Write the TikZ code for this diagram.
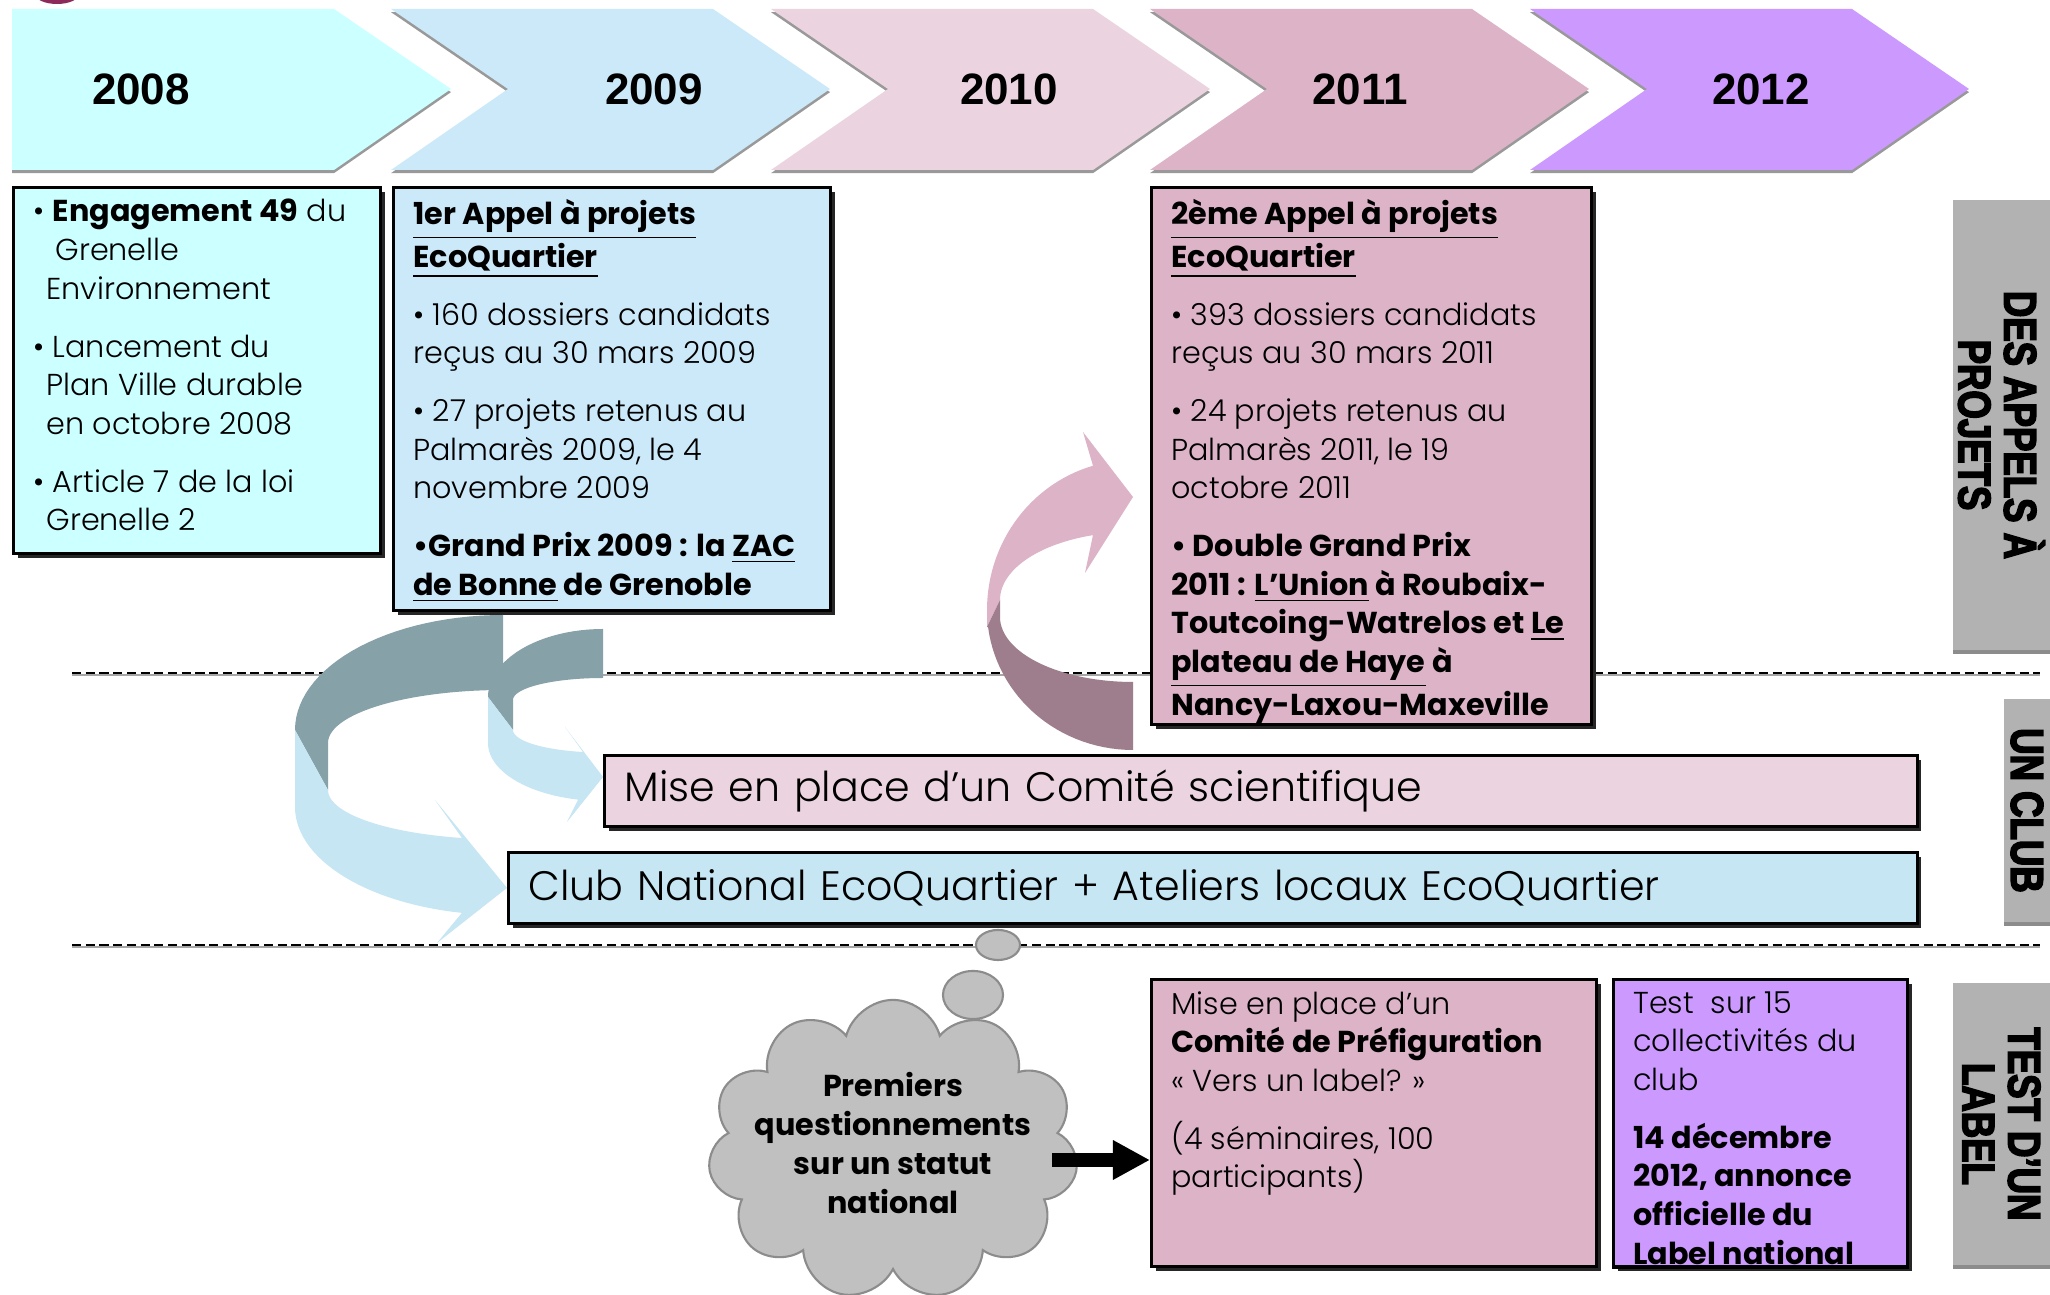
\documentclass[tikz,border=0pt]{standalone}
\usepackage{fontspec}
\setmainfont{Poppins}[UprightFont={* Light}, BoldFont={* Bold}]
\newfontfamily\yearfont{Liberation Sans}
\newfontfamily\sidefont{Liberation Sans Bold}[FakeStretch=0.8, FakeBold=3.5]
\usetikzlibrary{arrows.meta,shadows,shapes.symbols}
\definecolor{col2008}{HTML}{CCFFFF}
\definecolor{col2009}{HTML}{CCE9F9}
\definecolor{col2010}{HTML}{EBD4E0}
\definecolor{col2011}{HTML}{DDB3C8}
\definecolor{col2012}{HTML}{CC99FF}
\definecolor{colclub}{HTML}{C5E6F2}
\definecolor{ribblue}{HTML}{C5E6F2}
\definecolor{ribdark}{HTML}{87A1A8}
\definecolor{ribpink}{HTML}{DDB3C8}
\definecolor{ribmauve}{HTML}{9E7E8C}
\definecolor{cloudgray}{HTML}{C0C0C0}
\definecolor{sidegray}{HTML}{B2B2B2}
\definecolor{blob}{HTML}{8E2A5A}

\newcommand{\bodysize}{\fontsize{8.6}{11}\selectfont}
\newcommand{\itemgap}{\\[0.19cm]}
\newcommand{\boxtext}[3]{\parbox[t][#2][t]{#1}{\bodysize #3}}

\tikzset{
  chevron/.style={preaction={fill=black!40, transform canvas={yshift=-0.9pt}}},
  yearlabel/.style={font=\yearfont\bfseries\fontsize{12.5}{14}\selectfont},
  textbox/.style={anchor=north west, draw, line width=0.8pt,
    inner xsep=0.2cm, inner ysep=0.12cm,
    general shadow={fill=black!85, shadow xshift=1.2pt, shadow yshift=-1.2pt}},
  midbox/.style={textbox, text width=#1, minimum height=0.71cm, align=left,
    font=\fontsize{11.7}{13}\selectfont},
  sidebox/.style={fill=sidegray, inner sep=0pt,
    general shadow={fill=black!45, shadow yshift=-1pt},
    font=\sidefont\fontsize{13}{13}\selectfont},
  sepline/.style={line width=0.7pt, dash pattern=on 2.6pt off 1.3pt,
    preaction={draw=black!35, transform canvas={yshift=-0.6pt}}},
  fatarrow/.style={line width=4.2pt, -{Triangle[length=0.37cm, width=0.37cm]}},
  bubble/.style={fill=cloudgray, draw=black!45, line width=0.6pt}
}

\begin{document}
\begin{tikzpicture}[x=0.01cm, y=-0.01cm]
  \path[use as bounding box, fill=white] (0,0) rectangle (2050,1295);
  \fill[blob] (57,-6) ellipse [x radius=0.22cm, y radius=0.1cm];

  % chevrons
  \foreach \L/\yr/\lx in {12/2008/141, 391/2009/654, 771/2010/1009, 1150/2011/1360, 1530/2012/1761}{
    \ifnum\yr=2008
      \path[chevron, fill=col\yr] (\L,9) -- ({\L+322},9) -- ({\L+439},89) -- ({\L+322},170) -- (\L,170) -- cycle;
    \else
      \path[chevron, fill=col\yr] (\L,9) -- ({\L+322},9) -- ({\L+439},89) -- ({\L+322},170) -- (\L,170) -- ({\L+117},89) -- cycle;
    \fi
    \node[yearlabel] (y\yr) at (\lx,89) {\yr};
  }

  \draw[sepline] (72,673) -- (2040,673);
  \draw[sepline] (72,945) -- (2040,945);

  \node[textbox, fill=col2008] (b2008) at (12,186) {\boxtext{3.27cm}{3.42cm}{%
    \textbullet\ \textbf{Engagement 49} du\\
    \hspace*{0.22cm}Grenelle\\
    \hspace*{0.13cm}Environnement\itemgap
    \textbullet\ Lancement du\\
    \hspace*{0.13cm}Plan Ville durable\\
    \hspace*{0.13cm}en octobre 2008\itemgap
    \textbullet\ Article 7 de la loi\\
    \hspace*{0.13cm}Grenelle 2}};

  \node[textbox, fill=col2009] (b2009) at (392,186) {\boxtext{3.97cm}{3.99cm}{%
    \underline{\textbf{1er Appel à projets}}\\
    \underline{\textbf{EcoQuartier}}\itemgap
    \textbullet\ 160 dossiers candidats\\
    reçus au 30 mars 2009\itemgap
    \textbullet\ 27 projets retenus au\\
    Palmarès 2009, le 4\\
    novembre 2009\itemgap
    \textbf{\textbullet Grand Prix 2009 : la \underline{ZAC}}\\
    \textbf{\underline{de Bonne} de Grenoble}}};

  \node[textbox, fill=col2011] (b2011) at (1150,186) {\boxtext{4.00cm}{5.13cm}{%
    \underline{\textbf{2ème Appel à projets}}\\
    \underline{\textbf{EcoQuartier}}\itemgap
    \textbullet\ 393 dossiers candidats\\
    reçus au 30 mars 2011\itemgap
    \textbullet\ 24 projets retenus au\\
    Palmarès 2011, le 19\\
    octobre 2011\itemgap
    \textbf{\textbullet\ Double Grand Prix}\\
    \textbf{2011 : \underline{L’Union} à Roubaix-}\\
    \textbf{Toutcoing-Watrelos et \underline{Le}}\\
    \textbf{\underline{plateau de Haye} à}\\
    \textbf{Nancy-Laxou-Maxeville}}};

  \node[midbox=12.72cm, fill=col2010] (comite) at (603,754) {Mise en place d’un Comité scientifique};
  \node[midbox=13.68cm, fill=colclub] (club) at (507,851) {Club National EcoQuartier + Ateliers locaux EcoQuartier};

  \node[textbox, fill=col2011] (prefig) at (1150,978) {\boxtext{4.05cm}{2.63cm}{%
    Mise en place d’un\\
    \textbf{Comité de Préfiguration}\\
    « Vers un label? »\itemgap
    (4 séminaires, 100\\
    participants)}};

  \node[textbox, fill=col2012] (testlab) at (1612,978) {\boxtext{2.54cm}{2.63cm}{%
    Test\ \ sur 15\\
    collectivités du\\
    club\itemgap
    \textbf{14 décembre}\\
    \textbf{2012, annonce}\\
    \textbf{officielle du}\\
    \textbf{Label national}}};
  \draw[line width=0.8pt] (testlab.south west) -- (testlab.south east);

  % rubans
  \fill[ribdark] (503,615) -- plot[domain=270:180, samples=30] ({503+208*cos(\x)},{730+115*sin(\x)})
    -- (328,790) -- (328,743) -- plot[domain=180:270, samples=30] ({503+175*cos(\x)},{743+53*sin(\x)}) -- cycle;
  \fill[ribblue] (295,730) -- (295,807) -- plot[domain=180:101.4, samples=30] ({503+208*cos(\x)},{807+108*sin(\x)})
    -- (437,943) -- (club.west) -- (435,800) -- (462,838)
    -- plot[domain=103.5:180, samples=30] ({503+175*cos(\x)},{790+49.4*sin(\x)}) -- cycle;

  \fill[ribdark] (603,629) -- plot[domain=270:180, samples=25] ({603+115*cos(\x)},{697+68*sin(\x)})
    -- (513,730) -- (513,700) -- plot[domain=180:270, samples=25] ({603+90*cos(\x)},{700+22*sin(\x)}) -- cycle;
  \fill[ribblue] (488,697) -- (488,743) -- plot[domain=180:102.5, samples=25] ({603+115*cos(\x)},{743+58*sin(\x)})
    -- (567,822) -- (603,777) -- (565,727) -- (583,752)
    -- plot[domain=102.8:180, samples=25] ({603+90*cos(\x)},{730+22.6*sin(\x)}) -- cycle;

  \fill[ribpink] (987,627) -- (987,610) -- plot[domain=180:254.1, samples=30] ({1133+146*cos(\x)},{610+150*sin(\x)})
    -- (1083,432) -- (1133,497) -- (1085,573) -- (1093,535)
    -- plot[domain=252.5:180, samples=30] ({1133+133*cos(\x)},{600+68*sin(\x)}) -- cycle;
  \fill[ribmauve] (1000,600) -- (987,627) -- plot[domain=173:90, samples=30] ({1133+146*cos(\x)},{610+140*sin(\x)})
    -- (1133,682) -- plot[domain=90:180, samples=30] ({1133+133*cos(\x)},{617+65*sin(\x)}) -- cycle;

  % nuage
  \fill[bubble] (998,945) ellipse [x radius=0.22cm, y radius=0.15cm];
  \fill[bubble] (973,995) ellipse [x radius=0.30cm, y radius=0.24cm];
  \node[cloud, cloud puffs=11, cloud ignores aspect, bubble, inner sep=0pt,
    minimum width=3.7cm, minimum height=3.0cm] (doute) at (893,1150) {};
  \node[align=center, font=\bodysize\bfseries] (doutetxt) at (893,1143)
    {Premiers\\questionnements\\sur un statut\\national};
  \coordinate (depart) at (1052,1160);
  \draw[fatarrow] (depart) -- (depart -| prefig.west);

  % bandeaux
  \node[sidebox, minimum width=0.97cm, minimum height=4.5cm] (sideappels) at (2001.5,425)
    {\rotatebox{-90}{\parbox{4.2cm}{\centering DES APPELS À\\PROJETS}}};
  \node[sidebox, minimum width=0.46cm, minimum height=2.23cm] (sideclub) at (2027,810.5)
    {\rotatebox{-90}{UN CLUB}};
  \node[sidebox, minimum width=0.97cm, minimum height=2.82cm] (sidelabel) at (2001.5,1124)
    {\rotatebox{-90}{\parbox{2.7cm}{\centering TEST D’UN\\LABEL}}};
\end{tikzpicture}
\end{document}
